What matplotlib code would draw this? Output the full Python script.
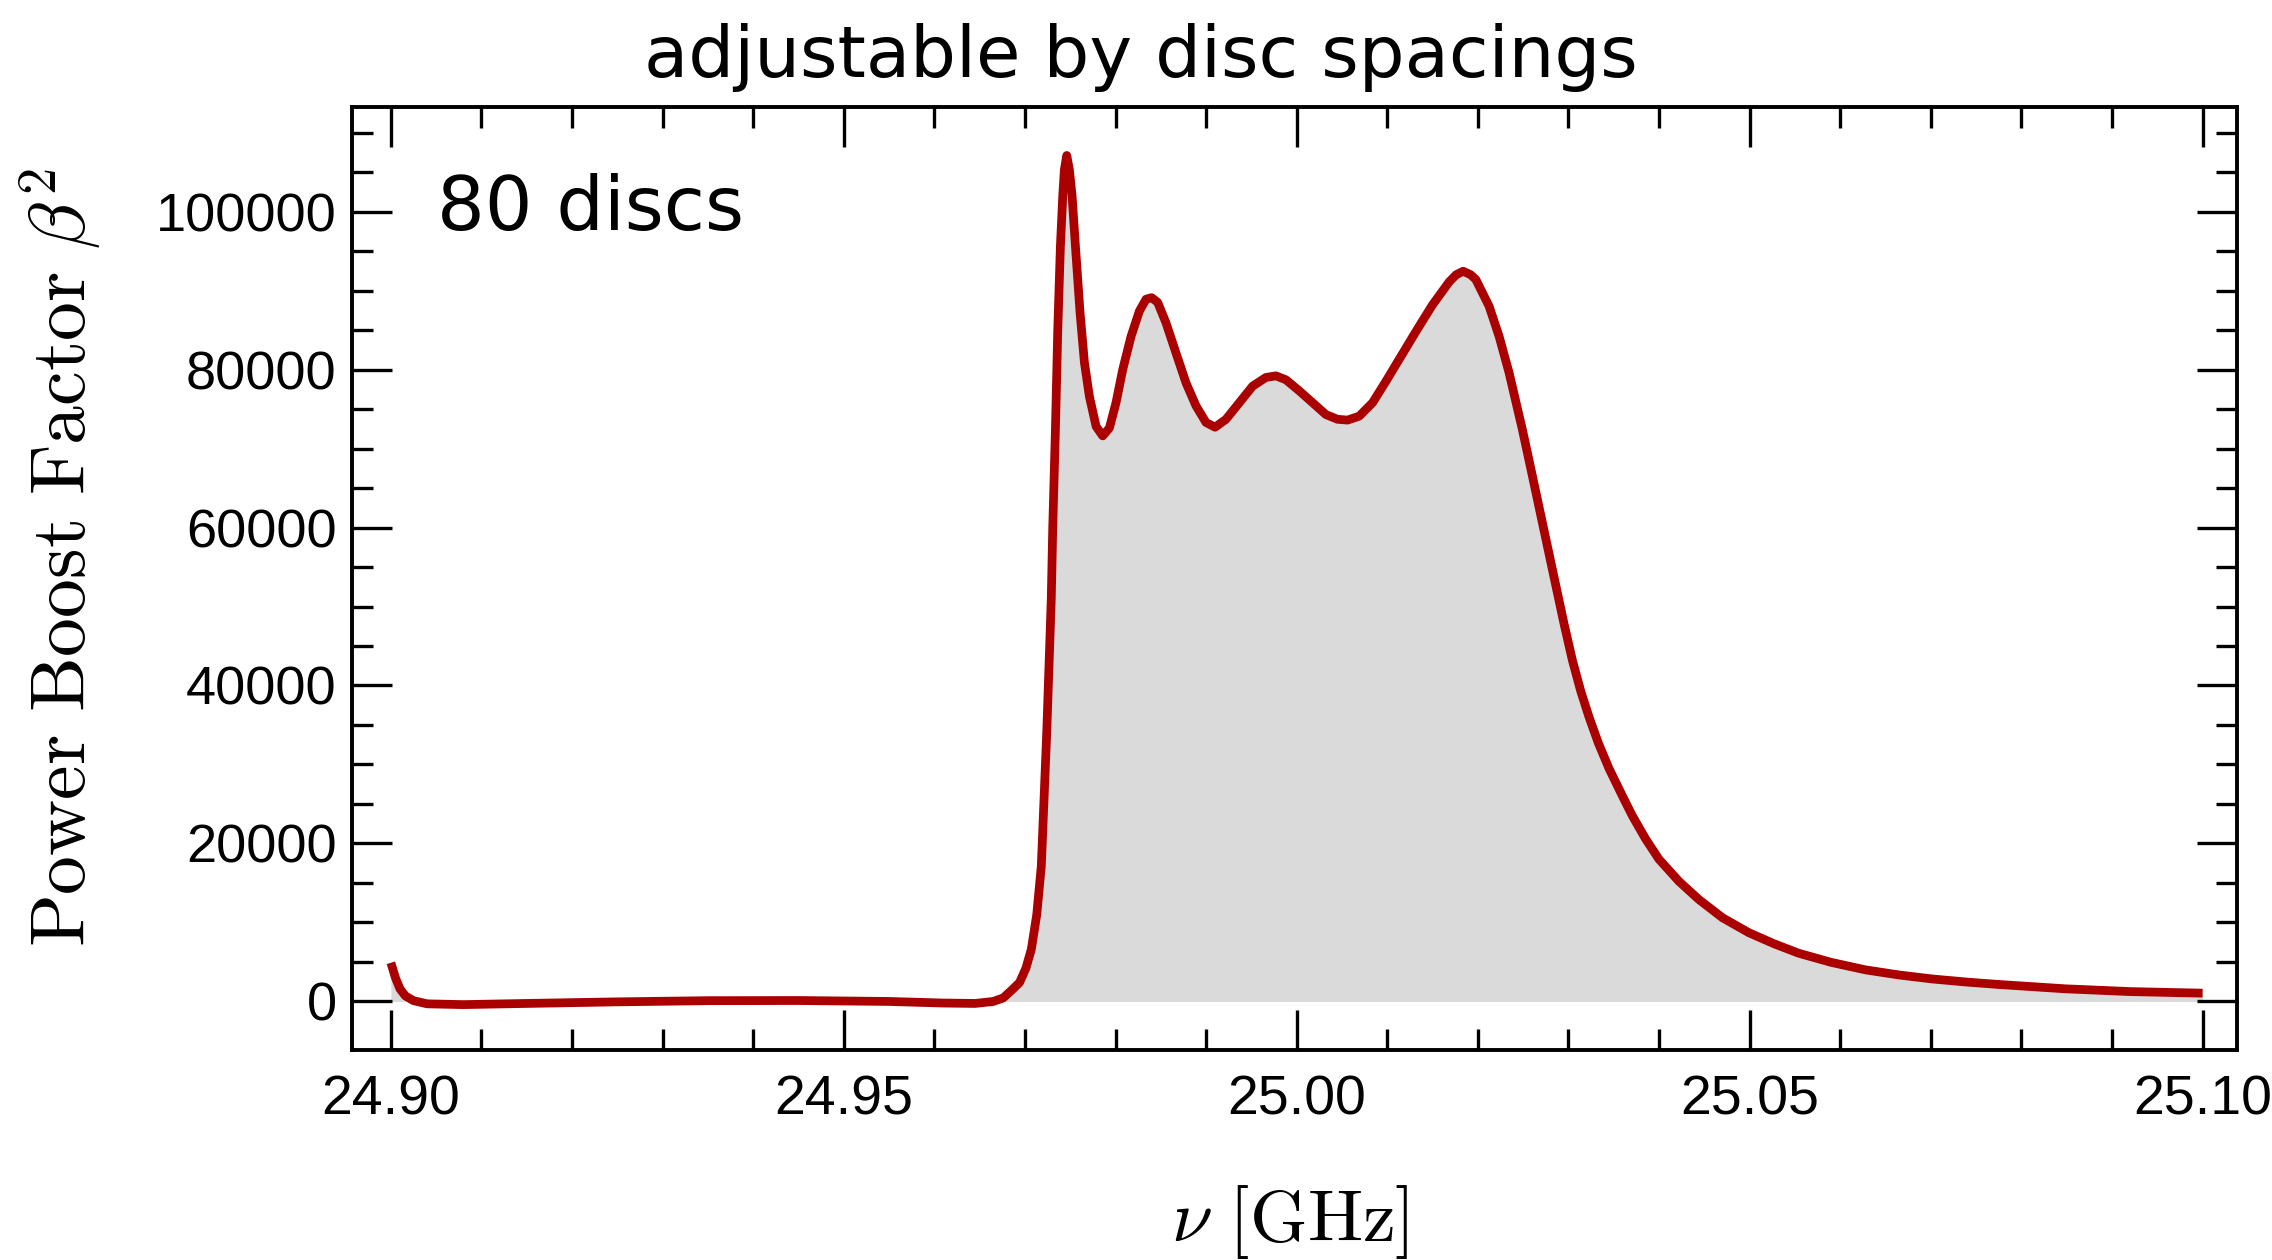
import matplotlib.pyplot as plt
import numpy as np
from matplotlib.ticker import MultipleLocator, FixedLocator

plt.rcParams['mathtext.fontset'] = 'cm'
plt.rcParams['font.family'] = ['Liberation Sans', 'DejaVu Sans']

# frequency [GHz] and power boost factor
freq = [24.9000, 24.9005, 24.9010, 24.9016, 24.9025, 24.9040, 24.9080, 24.9150,
        24.9250, 24.9350, 24.9450, 24.9550, 24.9610, 24.9645, 24.9665, 24.9676,
        24.9686, 24.9694, 24.9701, 24.9707, 24.9713, 24.9718, 24.9724, 24.9729,
        24.97306, 24.97336, 24.97362, 24.97391, 24.97417, 24.97435, 24.97461,
        24.97490, 24.97520, 24.97557, 24.97608, 24.97656, 24.97711, 24.97785,
        24.97858, 24.97932, 24.98005, 24.98079, 24.98171, 24.98263, 24.98336,
        24.98398, 24.98465, 24.98557, 24.98667, 24.98778, 24.98888, 24.98998,
        24.99098, 24.99219, 24.99366, 24.99513, 24.99660, 24.99771, 24.99881,
        25.00028, 25.00175, 25.00322, 25.00450, 25.00561, 25.00690, 25.00837,
        25.00984, 25.01131, 25.01315, 25.01499, 25.01683, 25.01760, 25.01837,
        25.01920, 25.01977, 25.02124, 25.02234, 25.02344, 25.02491, 25.02602,
        25.02712, 25.02822, 25.02951, 25.03043, 25.03135, 25.03227, 25.03330,
        25.03447, 25.03600, 25.03705, 25.03850, 25.03999, 25.04220, 25.04440,
        25.04700, 25.04992, 25.05270, 25.05543, 25.05900, 25.06279, 25.06650,
        25.07014, 25.07400, 25.07750, 25.08485, 25.09200, 25.10000]
boost = [4900, 3000, 1600, 700, 100, -300, -400, -250,
         -50, 100, 120, 0, -200, -250, 0, 450,
         1500, 2400, 4200, 6600, 11000, 17100, 34000, 50900,
         59800, 72400, 85100, 95600, 102000, 105300, 107100,
         105300, 102000, 95600, 87200, 80900, 76600, 72800,
         71600, 72600, 75800, 80000, 84200, 87400, 88900,
         89100, 88500, 85900, 82100, 78300, 75400, 73300,
         72700, 73700, 75800, 77900, 79000, 79200, 78700,
         77300, 75800, 74300, 73700, 73600, 74100, 75800,
         78500, 81300, 84800, 88200, 91100, 92000, 92450,
         92000, 91400, 88000, 84200, 79600, 72400, 66500,
         60600, 54700, 47800, 43200, 39300, 36000, 32700,
         29500, 25900, 23500, 20600, 18000, 15200, 12900,
         10600, 8700, 7300, 6100, 4950, 4000, 3350,
         2850, 2450, 2150, 1600, 1250, 1050]

x_major = [24.90, 24.95, 25.00, 25.05, 25.10]
x_labels = ["24.90", "24.95", "25.00", "25.05", "25.10"]
y_major = [0, 20000, 40000, 60000, 80000, 100000]
y_labels = ["0", "20000", "40000", "60000", "80000", "100000"]

fig = plt.figure(figsize=(22.72, 12.6), dpi=100)
ax = fig.add_axes([0.1549, 0.1667, 0.8297, 0.7484])

ax.fill_between(freq, boost, 0, color="#dadada", lw=0)
ax.plot(freq, boost, color="#aa0000", lw=6.3,
        solid_joinstyle="round", solid_capstyle="butt")

ax.set_xlim(24.8957, 25.1038)
ax.set_ylim(-6140, 113240)

ax.set_xticks(x_major)
ax.set_xticklabels(x_labels)
ax.set_yticks(y_major)
ax.set_yticklabels(y_labels)
ax.xaxis.set_minor_locator(MultipleLocator(0.01))
ax.yaxis.set_minor_locator(FixedLocator(np.arange(0, 112000, 5000)))

ax.tick_params(which="both", direction="in", top=True, right=True,
               width=2.4, color="black")
ax.tick_params(which="major", length=29)
ax.tick_params(which="minor", length=15)
ax.tick_params(axis="x", labelsize=40, pad=18)
ax.tick_params(axis="y", labelsize=39, pad=11)

for sp in ax.spines.values():
    sp.set_linewidth(2.8)

fig.text(61 / 2272, 1 - 558 / 1260, r"$\mathrm{Power\ Boost\ Factor}\ \beta^2$",
         rotation=90, ha="center", va="center", fontsize=56)
fig.text(1290 / 2272, 1 - 1222 / 1260, r"$\nu\ [\mathrm{GHz}]$",
         ha="center", va="center", fontsize=53)
fig.text(0.502, 1 - 77 / 1260, "adjustable by disc spacings",
         ha="center", va="baseline", fontsize=52, family="DejaVu Sans")
fig.text(437 / 2272, 1 - 230 / 1260, "80 discs",
         ha="left", va="baseline", fontsize=54, family="DejaVu Sans")

plt.savefig("out.png", dpi=100)
